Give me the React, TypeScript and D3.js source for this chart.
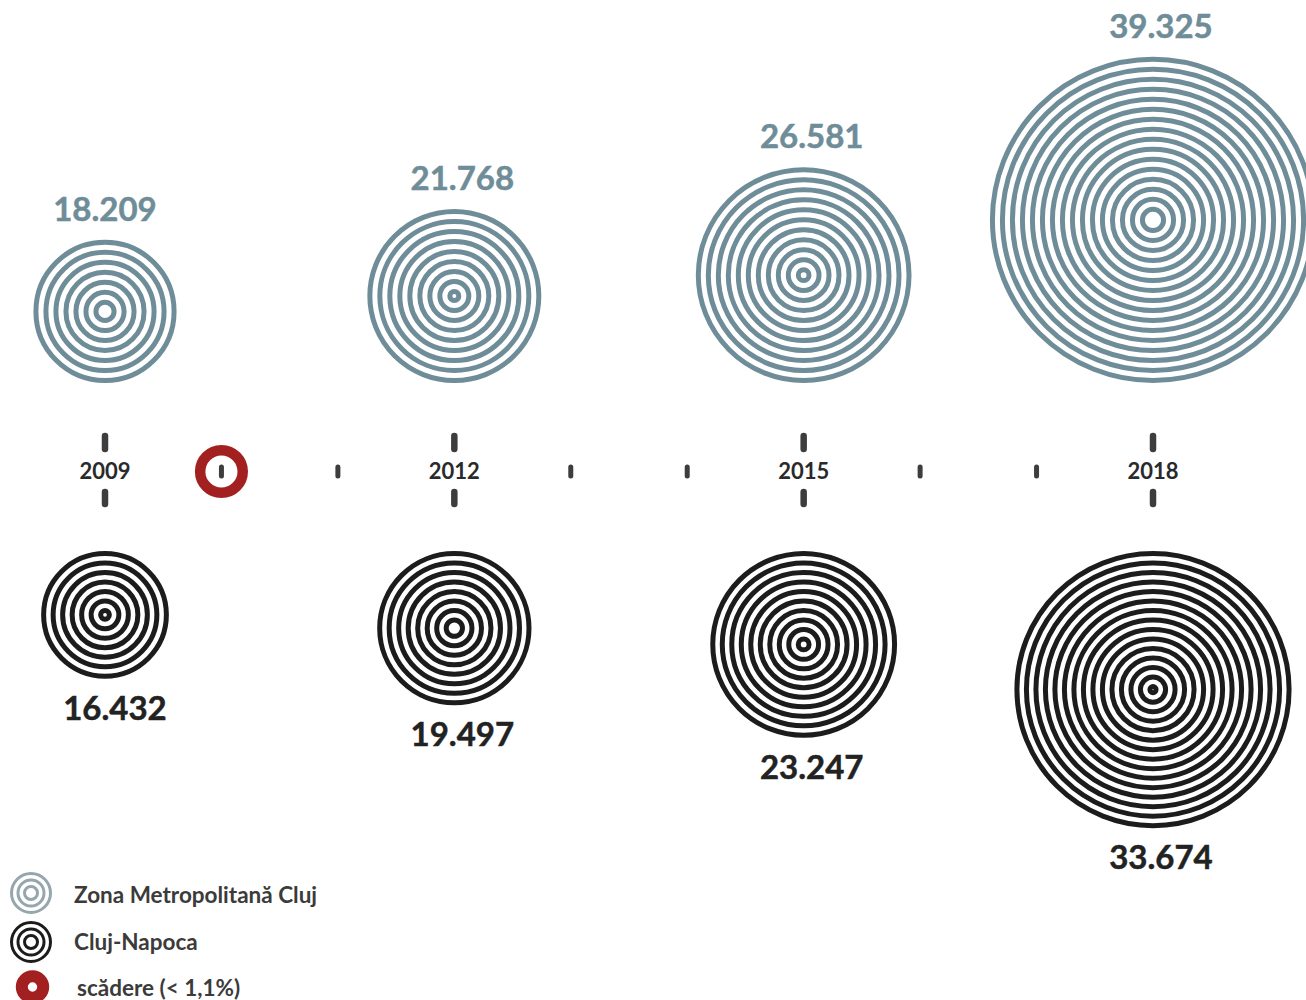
import React from "react";
import * as d3 from "d3";

const years = [2009, 2010, 2011, 2012, 2013, 2014, 2015, 2016, 2017, 2018];
const labeledYears = [2009, 2012, 2015, 2018];
const metroValues = [18209, 21768, 26581, 39325];
const clujValues = [16432, 19497, 23247, 33674];
const decreaseYears = [2010];
const legendLabels = ["Zona Metropolitană Cluj", "Cluj-Napoca", "scădere (< 1,1%)"];

const W = 1306;
const H = 1000;
const FONT = "Lato, 'Open Sans', sans-serif";
const METRO = "#6f8d98";
const BLACK = "#1c1c1c";
const RED = "#a32020";
const TICK = "#3d3d3d";

const fmt = d3
  .formatLocale({ thousands: ".", decimal: ",", grouping: [3], currency: ["", ""] })
  .format(",d");

const x = d3.scaleLinear().domain([2009, 2018]).range([105, 1153]);
const r = d3.scaleLinear().domain([10000, 40000]).range([36, 166]);

const AXIS_Y = 471;
const METRO_BASE = 383;
const CLUJ_TOP = 551;

function Rings({ cx, cy, radius, color, pitch, sw }: any) {
  const radii = d3.range(radius - sw / 2, 3, -pitch);
  return (
    <g>
      {radii.map((rr, i) => (
        <circle key={i} cx={cx} cy={cy} r={rr} fill="none" stroke={color} strokeWidth={sw} />
      ))}
    </g>
  );
}

export default function App() {
  return (
    <svg
      width={W}
      height={H}
      style={{ position: "absolute", left: 0, top: 0, background: "#fff" }}
      fontFamily={FONT}
    >
      {/* Metro circles */}
      {labeledYears.map((y, i) => {
        const rad = r(metroValues[i]);
        const cx = x(y);
        const cy = METRO_BASE - rad;
        return (
          <g key={"m" + y}>
            <Rings cx={cx} cy={cy} radius={rad} color={METRO} pitch={10} sw={5} />
            <text
              x={cx + (i === 0 ? 0 : 8)}
              y={cy - rad - 19}
              textAnchor="middle"
              fontSize={33}
              fontWeight={700}
              fill={METRO}
              stroke={METRO}
              strokeWidth={0.5}
            >
              {fmt(metroValues[i])}
            </text>
          </g>
        );
      })}

      {/* Cluj circles */}
      {labeledYears.map((y, i) => {
        const rad = r(clujValues[i]);
        const cx = x(y);
        const cy = CLUJ_TOP + rad;
        return (
          <g key={"c" + y}>
            <Rings cx={cx} cy={cy} radius={rad} color={BLACK} pitch={9.5} sw={5} />
            <text
              x={cx + (i === 0 ? 10 : 8)}
              y={cy + rad + 41}
              textAnchor="middle"
              fontSize={33}
              fontWeight={700}
              fill="#222"
              stroke="#222"
              strokeWidth={0.5}
            >
              {fmt(clujValues[i])}
            </text>
          </g>
        );
      })}

      {/* Timeline */}
      {decreaseYears.map((y) => (
        <circle key={"d" + y} cx={x(y)} cy={AXIS_Y + 0.5} r={21.3} fill="none" stroke={RED} strokeWidth={10.5} />
      ))}
      {years.map((y) => {
        const cx = x(y);
        if (labeledYears.includes(y)) {
          return (
            <g key={"t" + y}>
              <line x1={cx} x2={cx} y1={436} y2={449} stroke={TICK} strokeWidth={6.5} strokeLinecap="round" />
              <line x1={cx} x2={cx} y1={492} y2={504} stroke={TICK} strokeWidth={6.5} strokeLinecap="round" />
              <text x={cx} y={479} textAnchor="middle" fontSize={22} fontWeight={700} fill="#2a2a2a">
                {y}
              </text>
            </g>
          );
        }
        return (
          <line
            key={"t" + y}
            x1={cx}
            x2={cx}
            y1={467}
            y2={476}
            stroke={TICK}
            strokeWidth={5}
            strokeLinecap="round"
          />
        );
      })}

      {/* Legend */}
      <g>
        <Rings cx={31} cy={893} radius={21} color="#95a6ad" pitch={6.5} sw={3} />
        <text x={74} y={903} fontSize={22.5} fontWeight={700} fill="#3b3b3b">
          {legendLabels[0]}
        </text>
        <Rings cx={31} cy={942} radius={21} color={BLACK} pitch={6.5} sw={3} />
        <text x={74} y={950} fontSize={22.5} fontWeight={700} fill="#3b3b3b">
          {legendLabels[1]}
        </text>
        <circle cx={32.5} cy={987} r={10.7} fill="none" stroke={RED} strokeWidth={12} />
        <text x={77} y={996} fontSize={22.5} fontWeight={700} fill="#3b3b3b">
          {legendLabels[2]}
        </text>
      </g>
    </svg>
  );
}
